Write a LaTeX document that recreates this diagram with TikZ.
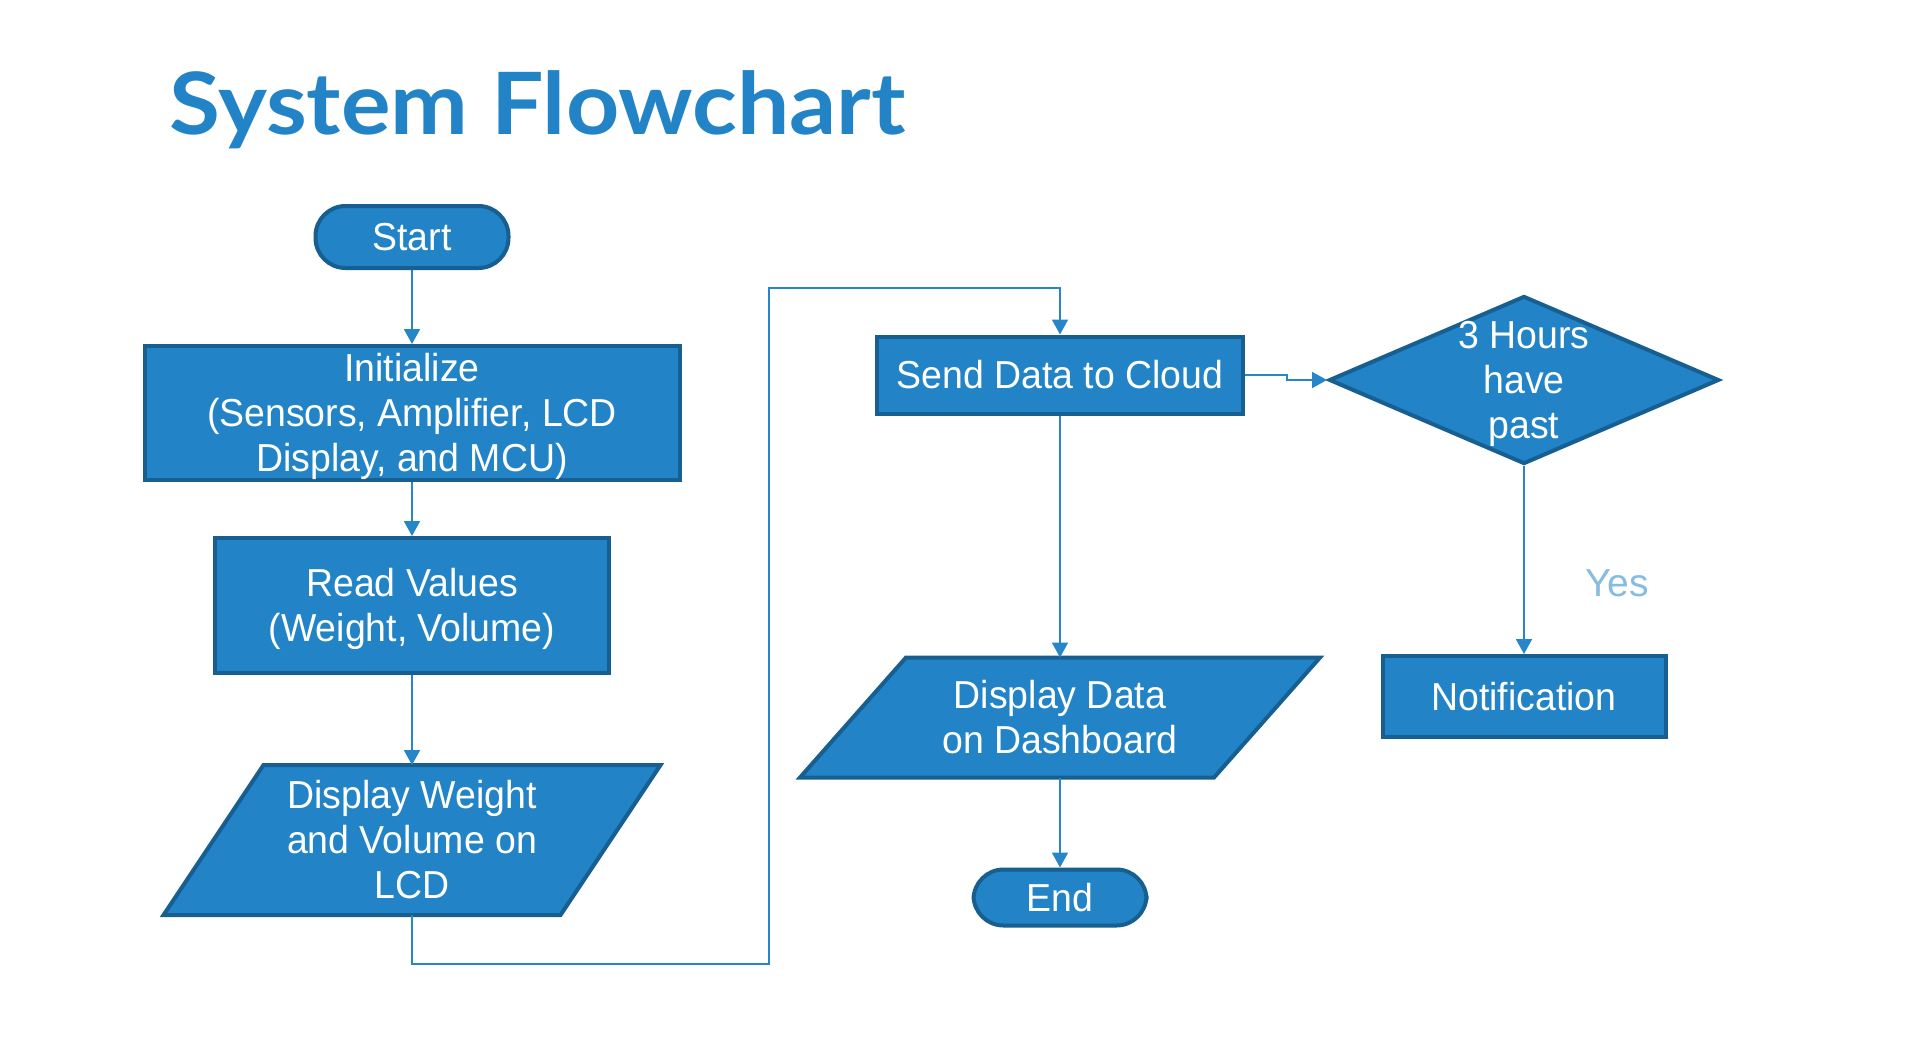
\documentclass[tikz,border=0pt]{standalone}
\usepackage{fontspec}
\setmainfont{Liberation Sans}
\newfontfamily\titlefont{Lato}[FakeStretch=1.08]
\newfontfamily\boxfont{Liberation Sans}[FakeStretch=0.96]
\usetikzlibrary{shapes.geometric, arrows.meta, positioning, backgrounds}
\definecolor{flowblue}{RGB}{34,132,198}
\definecolor{edgeblue}{RGB}{23,94,145}
\definecolor{lineblue}{RGB}{38,134,200}
\definecolor{yesblue}{RGB}{133,188,226}
\newcommand{\topstrut}{\rule{0pt}{17.5pt}}
\newcommand{\botstrut}{\rule[-4pt]{0pt}{4pt}}

\begin{document}
\begin{tikzpicture}[
    x=0.5pt, y=-0.5pt,
    base/.style={draw=edgeblue, line width=2pt, fill=flowblue, text=white, font=\boxfont\fontsize{19.5}{22.5}\selectfont, align=center, inner sep=0pt, execute at end node=\botstrut},
    term/.style={base, rectangle, rounded corners=15pt},
    box/.style={base, rectangle},
    iotext/.style={base, rectangle, draw=none, fill=none, outer sep=0pt},
    iobox/.style={draw=edgeblue, line width=2pt, fill=flowblue, line join=miter},
    decision/.style={base, diamond, inner ysep=-6pt, inner xsep=-2pt},
    arrow/.style={-{Triangle[length=7.5pt, width=8pt]}, line width=1pt, draw=lineblue},
    node distance=27pt
]
\useasboundingbox (0,0) rectangle (1920,1055);

\node[anchor=base west, inner sep=0pt, text=flowblue, font=\titlefont\bfseries\fontsize{43}{50}\selectfont] (title) at (169,134) {System Flowchart};

\node[term, minimum width=96.5pt, minimum height=31pt] (start) at (412,237) {\topstrut Start};
\node[box, minimum width=267.5pt, minimum height=67pt, below=37pt of start] (init) {\topstrut Initialize\\(Sensors, Amplifier, LCD\\Display, and MCU)};
\node[box, minimum width=197pt, minimum height=67.5pt, below=of init] (read) {\topstrut Read Values\\(Weight, Volume)};
\node[iotext, minimum width=248.5pt, minimum height=75pt, below=45pt of read] (dispw) {\topstrut Display Weight\\and Volume on\\LCD};

\node[box, minimum width=183pt, minimum height=38.5pt] (send) at (1060,375) {\topstrut Send Data to Cloud};
\node[iotext, minimum width=260pt, minimum height=60pt, below=121pt of send] (dash) {\topstrut Display Data\\on Dashboard};
\node[term, minimum width=86.5pt, minimum height=28pt, below=45pt of dash] (end) {\topstrut End};

\node[decision, minimum width=195pt, minimum height=84pt, aspect=2.32] (hours) at (1524,380) {\topstrut 3 Hours\\have\\past};
\node[box, minimum width=141.5pt, minimum height=40.5pt, below=94pt of hours] (notif) {\topstrut Notification};
\node[text=yesblue, font=\fontsize{19.5}{22.5}\selectfont, inner sep=0pt] (yes) at (1617,583) {Yes};

\begin{scope}[on background layer]
\path[iobox] ([xshift=50pt]dispw.north west) -- (dispw.north east) -- ([xshift=-50pt]dispw.south east) -- (dispw.south west) -- cycle;
\path[iobox] ([xshift=53pt]dash.north west) -- (dash.north east) -- ([xshift=-53pt]dash.south east) -- (dash.south west) -- cycle;
\end{scope}

\draw[arrow] (start) -- (init);
\draw[arrow] (init) -- (read);
\draw[arrow] (read) -- (dispw);
\draw[arrow] (dispw.south) |- (769,964) |- (1060,288) -- (send.north);
\draw[arrow] (send.east) -- ++(42,0) |- (hours.west);
\draw[arrow] (send) -- (dash);
\draw[arrow] (dash) -- (end);
\draw[arrow] (hours) -- (notif);
\end{tikzpicture}
\end{document}
